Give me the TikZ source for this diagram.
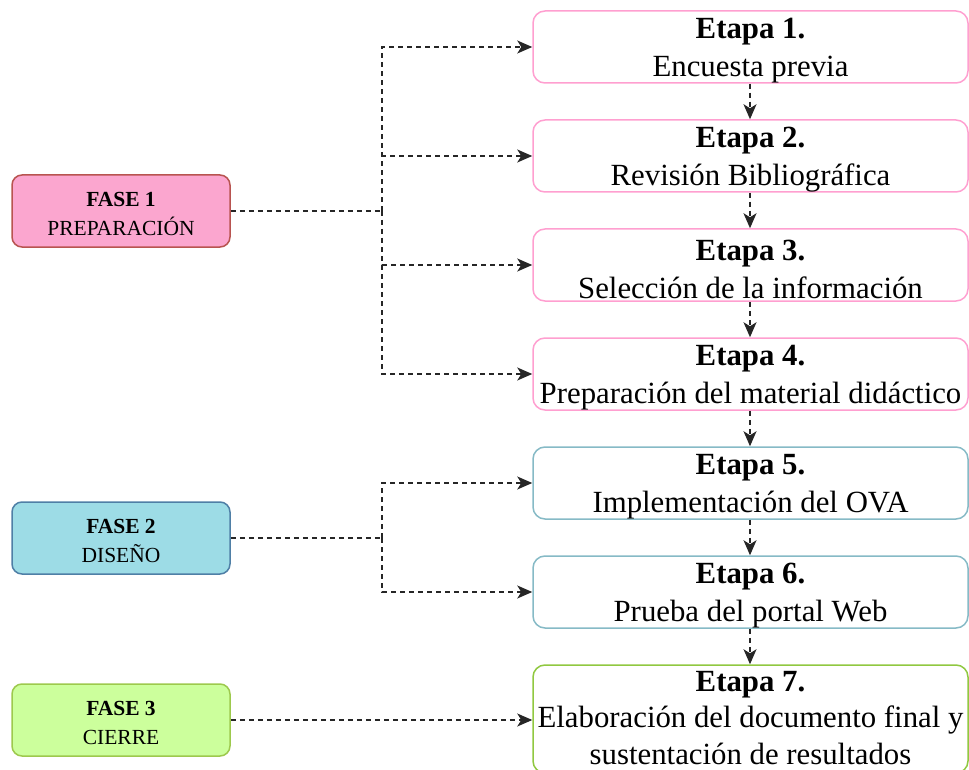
\documentclass[tikz,border=0pt]{standalone}
\usepackage{fontspec}
\setmainfont{Liberation Serif}
\usetikzlibrary{arrows.meta}
\definecolor{f1fill}{HTML}{FBA6CF}
\definecolor{f1draw}{HTML}{B85450}
\definecolor{f2fill}{HTML}{9DDCE6}
\definecolor{f2draw}{HTML}{4F7FA6}
\definecolor{f3fill}{HTML}{CCFF9C}
\definecolor{f3draw}{HTML}{9DC94D}
\definecolor{spink}{HTML}{FF9FD0}
\definecolor{steal}{HTML}{86BAC6}
\definecolor{sgreen}{HTML}{90C840}
\tikzset{
  fasebox/.style={draw, line width=1.5pt, rounded corners=10pt, minimum width=218pt, minimum height=72pt, inner sep=0pt},
  fasetext/.style={inner sep=0pt, align=center, font=\fontsize{21.5}{29}\selectfont},
  stagebox/.style={draw, line width=1.5pt, rounded corners=12pt, minimum width=435pt, minimum height=72pt, inner sep=0pt},
  stagetext/.style={inner sep=0pt, align=center, font=\fontsize{30.8}{38}\selectfont},
  conn/.style={draw=black!85, line width=1.5pt, dash pattern=on 5pt off 4pt, -{Stealth[length=15pt,width=13pt,inset=4pt]}},
  plain/.style={draw=black!85, line width=1.5pt, dash pattern=on 5pt off 4pt}
}
\begin{document}
\begin{tikzpicture}[x=1pt,y=-1pt]
\useasboundingbox (0,0) rectangle (969,770);
\clip (0,0) rectangle (969,770);
% phases
\node[fasebox, fill=f1fill, draw=f1draw] (f1) at (121,211) {};
\node[fasebox, fill=f2fill, draw=f2draw] (f2) at (121,538) {};
\node[fasebox, fill=f3fill, draw=f3draw] (f3) at (121,720) {};
\node[fasetext, yshift=-2.5pt] (t1) at (f1.center) {\textbf{FASE 1}\\PREPARACIÓN};
\node[fasetext, yshift=-2.5pt] (t2) at (f2.center) {\textbf{FASE 2}\\DISEÑO};
\node[fasetext, yshift=-2.5pt] (t3) at (f3.center) {\textbf{FASE 3}\\CIERRE};
% stages
\node[stagebox, draw=spink] (e1) at (750.5,47) {};
\node[stagebox, draw=spink] (e2) at (750.5,156) {};
\node[stagebox, draw=spink] (e3) at (750.5,265) {};
\node[stagebox, draw=spink] (e4) at (750.5,374) {};
\node[stagebox, draw=steal] (e5) at (750.5,483) {};
\node[stagebox, draw=steal] (e6) at (750.5,592) {};
\node[stagebox, draw=sgreen, minimum height=108pt] (e7) at (750.5,719) {};
\node[stagetext, yshift=-4pt] (s1) at (e1.center) {\textbf{Etapa 1.}\\Encuesta previa};
\node[stagetext, yshift=-4pt] (s2) at (e2.center) {\textbf{Etapa 2.}\\Revisión Bibliográfica};
\node[stagetext, yshift=-4pt] (s3) at (e3.center) {\textbf{Etapa 3.}\\Selección de la información};
\node[stagetext, yshift=-4pt] (s4) at (e4.center) {\textbf{Etapa 4.}\\Preparación del material didáctico};
\node[stagetext, yshift=-4pt] (s5) at (e5.center) {\textbf{Etapa 5.}\\Implementación del OVA};
\node[stagetext, yshift=-4pt] (s6) at (e6.center) {\textbf{Etapa 6.}\\Prueba del portal Web};
\node[stagetext, font=\fontsize{30.8}{36.5}\selectfont, yshift=1pt] (s7) at (e7.center) {\textbf{Etapa 7.}\\Elaboración del documento final y\\sustentación de resultados};
% branch points
\coordinate (j1) at (382,211);
\coordinate (j2) at (382,538);
% phase 1 connectors
\path[plain] (f1.east) -- (j1);
\path[conn] (j1) |- (e1.west);
\path[conn] (j1) |- (e2.west);
\path[conn] (j1) |- (e3.west);
\path[conn] (j1) |- (e4.west);
% phase 2 connectors
\path[plain] (f2.east) -- (j2);
\path[conn] (j2) |- (e5.west);
\path[conn] (j2) |- (e6.west);
% phase 3
\path[conn] (f3.east) -- (f3.east -| e7.west);
% stage chain
\path[conn] ([xshift=-0.5pt]e1.south) -- ([xshift=-0.5pt]e2.north);
\path[conn] ([xshift=-0.5pt]e2.south) -- ([xshift=-0.5pt]e3.north);
\path[conn] ([xshift=-0.5pt]e3.south) -- ([xshift=-0.5pt]e4.north);
\path[conn] ([xshift=-0.5pt]e4.south) -- ([xshift=-0.5pt]e5.north);
\path[conn] ([xshift=-0.5pt]e5.south) -- ([xshift=-0.5pt]e6.north);
\path[conn] ([xshift=-0.5pt]e6.south) -- ([xshift=-0.5pt]e7.north);
\end{tikzpicture}
\end{document}
